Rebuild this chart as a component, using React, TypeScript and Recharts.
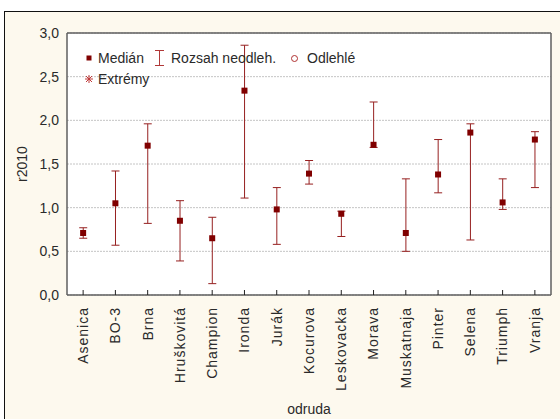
import {
  Bar,
  CartesianGrid,
  ComposedChart,
  Legend,
  Line,
  XAxis,
  YAxis,
} from 'recharts';

/** Median + non-outlier range per variety (r2010). */
const varieties = [
  'Asenica', 'BO-3', 'Brna', 'Hruškovitá', 'Champion', 'Ironda', 'Jurák', 'Kocurova',
  'Leskovacka', 'Morava', 'Muskatnaja', 'Pinter', 'Selena', 'Triumph', 'Vranja',
];
const medians = [0.71, 1.05, 1.71, 0.85, 0.65, 2.34, 0.98, 1.39, 0.93, 1.72, 0.71, 1.38, 1.86, 1.06, 1.78];
const lows = [0.65, 0.57, 0.82, 0.39, 0.13, 1.11, 0.58, 1.27, 0.67, 1.69, 0.5, 1.17, 0.63, 0.98, 1.23];
const highs = [0.77, 1.42, 1.96, 1.08, 0.89, 2.86, 1.23, 1.54, 0.96, 2.21, 1.33, 1.78, 1.96, 1.33, 1.87];
const yTicks = [0, 0.5, 1, 1.5, 2, 2.5, 3];

const data = varieties.map((name, i) => ({
  name,
  median: medians[i],
  range: [lows[i], highs[i]],
}));

const DARK_RED = '#800000';
const WHISKER = '#962020';
const FRAME = '#5f5f5f';
const TEXT = '#2a2a2a';
const FONT = '"Liberation Sans", Arial, sans-serif';

const fmt = (v: number) => v.toFixed(1).replace('.', ',');

const RangeShape = (props: any) => {
  const { x, y, width, height } = props;
  if (x == null || y == null) return null;
  const cx = x + width / 2;
  return (
    <g stroke={WHISKER} strokeWidth={1}>
      <line x1={cx} x2={cx} y1={y} y2={y + height} />
      <line x1={cx - 4} x2={cx + 4} y1={y} y2={y} />
      <line x1={cx - 4} x2={cx + 4} y1={y + height} y2={y + height} />
    </g>
  );
};

const MedianDot = (props: any) => {
  const { cx, cy, index } = props;
  if (cx == null || cy == null) return null;
  return <rect key={index} x={cx - 3} y={cy - 3} width={6} height={6} fill={DARK_RED} />;
};

const VarietyTick = (props: any) => {
  const { x, y, payload } = props;
  return (
    <text
      x={x}
      y={y}
      dy="0.35em"
      transform={`rotate(-90 ${x} ${y})`}
      textAnchor="end"
      fill={TEXT}
      fontSize={14}
      letterSpacing={1}
      fontFamily={FONT}
    >
      {payload.value}
    </text>
  );
};

const legendText: React.CSSProperties = {
  position: 'absolute',
  fontSize: 14,
  lineHeight: '16px',
  color: TEXT,
  fontFamily: FONT,
  whiteSpace: 'nowrap',
};

const LegendBox = () => (
  <div style={{ position: 'relative', width: 300, height: 40 }}>
    <svg width={300} height={40} style={{ position: 'absolute', left: 0, top: 0 }}>
      <rect x={4.5} y={7.5} width={5} height={5} fill={DARK_RED} />
      <g stroke="#b03838" strokeWidth={1}>
        <line x1={77.5} x2={77.5} y1={2} y2={18} />
        <line x1={73} x2={82} y1={2.5} y2={2.5} />
        <line x1={73} x2={82} y1={17.5} y2={17.5} />
      </g>
      <circle cx={212.5} cy={10.5} r={3} fill="none" stroke="#b03030" strokeWidth={1} />
      <g stroke="#c03a3a" strokeWidth={1}>
        <line x1={7} x2={7} y1={27} y2={35} />
        <line x1={3} x2={11} y1={31} y2={31} />
        <line x1={4} x2={10} y1={28} y2={34} />
        <line x1={10} x2={4} y1={28} y2={34} />
      </g>
    </svg>
    <span style={{ ...legendText, left: 16, top: 2 }}>Medián</span>
    <span style={{ ...legendText, left: 89, top: 2 }}>Rozsah neodleh.</span>
    <span style={{ ...legendText, left: 225, top: 2 }}>Odlehlé</span>
    <span style={{ ...legendText, left: 16, top: 23 }}>Extrémy</span>
  </div>
);

const YTitle = (props: any) => {
  const { viewBox } = props;
  const cy = viewBox.y + viewBox.height / 2;
  const x = 22;
  return (
    <text
      x={x}
      y={cy}
      dy="0.35em"
      transform={`rotate(-90 ${x} ${cy})`}
      textAnchor="middle"
      fill={TEXT}
      fontSize={14}
      fontFamily={FONT}
    >
      r2010
    </text>
  );
};

export default function App() {
  return (
    <div style={{ position: 'relative', width: 560, height: 419, background: '#fff', overflow: 'hidden' }}>
      <style>{'body{margin:0}'}</style>
      <div
        style={{
          position: 'absolute',
          left: 4,
          top: 11,
          width: 556,
          height: 408,
          background: '#fdf9ee',
          borderTop: '1px solid #111',
          borderLeft: '1px solid #111',
          boxSizing: 'border-box',
        }}
      />
      <div style={{ position: 'absolute', left: 0, top: 0 }}>
        <ComposedChart
          width={560}
          height={419}
          data={data}
          margin={{ top: 32, right: 8, bottom: 0, left: 0 }}
        >
          <CartesianGrid
            xAxisId="b"
            yAxisId="l"
            vertical={false}
            fill="#fff"
            stroke="#c4c4c4"
            strokeDasharray="2 1"
          />
          <XAxis
            xAxisId="b"
            dataKey="name"
            interval={0}
            height={124}
            tickSize={-5}
            tickMargin={17}
            tick={<VarietyTick />}
            tickLine={{ stroke: '#222' }}
            axisLine={{ stroke: FRAME, strokeWidth: 1.5 }}
            label={{ value: 'odruda', position: 'insideBottom', offset: 5, fill: TEXT, fontSize: 14, fontFamily: FONT }}
          />
          <XAxis
            xAxisId="t"
            orientation="top"
            dataKey="name"
            interval={0}
            height={1}
            tickSize={-5}
            tick={false}
            tickLine={{ stroke: '#222' }}
            axisLine={{ stroke: FRAME, strokeWidth: 1.5 }}
          />
          <YAxis
            yAxisId="l"
            domain={[0, 3]}
            ticks={yTicks}
            width={67}
            tickLine={false}
            tickFormatter={fmt}
            tick={{ fill: TEXT, fontSize: 14, fontFamily: FONT }}
            axisLine={{ stroke: FRAME, strokeWidth: 1.5 }}
            label={<YTitle />}
          />
          <YAxis
            yAxisId="r"
            orientation="right"
            domain={[0, 3]}
            ticks={yTicks}
            width={1}
            tickSize={-5}
            tick={false}
            tickLine={{ stroke: '#222' }}
            axisLine={{ stroke: FRAME, strokeWidth: 1.5 }}
          />
          <Legend
            layout="horizontal"
            verticalAlign="middle"
            align="center"
            content={<LegendBox />}
            wrapperStyle={{ position: 'absolute', left: 82, top: 48, width: 300, height: 40 }}
          />
          <Bar
            xAxisId="b"
            yAxisId="l"
            dataKey="range"
            shape={<RangeShape />}
            isAnimationActive={false}
            legendType="none"
          />
          <Line
            xAxisId="b"
            yAxisId="l"
            dataKey="median"
            stroke="none"
            dot={<MedianDot />}
            activeDot={false}
            isAnimationActive={false}
            legendType="none"
          />
        </ComposedChart>
      </div>
    </div>
  );
}
